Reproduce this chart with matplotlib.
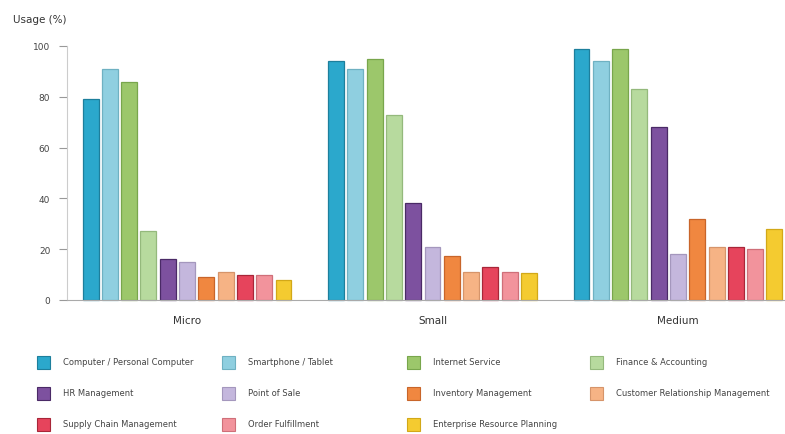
import matplotlib.pyplot as plt
from matplotlib.patches import Rectangle
import numpy as np

# company size groups
groups = ['Micro', 'Small', 'Medium']

# software / service categories, in drawing order
categories = [
    'Computer / Personal Computer', 'Smartphone / Tablet', 'Internet Service',
    'Finance & Accounting', 'HR Management', 'Point of Sale',
    'Inventory Management', 'Customer Relationship Management',
    'Supply Chain Management', 'Order Fulfillment', 'Enterprise Resource Planning',
]

# usage in percent per category, one list per group
micro = [79, 91, 86, 27, 16, 15, 9, 11, 10, 10, 8]
small = [94, 91, 95, 73, 38, 21, 17.5, 11, 13, 11, 10.5]
medium = [99, 94, 99, 83, 68, 18, 32, 21, 21, 20, 28]

yticks = [0, 20, 40, 60, 80, 100]

colors = ['#2ba8cc', '#8fcfe0', '#9cc76b', '#b7da9e', '#7d519f', '#c4b7dd',
          '#f08740', '#f6b385', '#e6445c', '#f2939c', '#f4cb30']
edges = ['#1d7f9c', '#6fb1c2', '#78a64c', '#94b97c', '#4a2a66', '#a497bd',
         '#c8652a', '#d6946a', '#a82638', '#cf6f79', '#d2a818']

values = np.array([micro, small, medium])

fig = plt.figure(figsize=(7.85, 4.35), dpi=100)
ax = fig.add_axes([67 / 785, 1 - 301 / 435, 1 - 67 / 785, 254 / 435])

pitch = 0.0786
width = 0.065
x = np.arange(len(groups))
for i, cat in enumerate(categories):
    off = (i - 5) * pitch
    ax.bar(x + off, values[:, i], width=width, color=colors[i],
           edgecolor=edges[i], linewidth=0.9, clip_on=False)

ax.set_xlim(-0.489, 2.436)
ax.set_ylim(0, 100)
ax.set_yticks(yticks)
ax.set_yticklabels([str(t) for t in yticks], fontsize=6.5, color='#444444')
ax.tick_params(axis='y', length=6, width=0.8, color='#999999', pad=6)
ax.set_xticks(x)
ax.set_xticklabels(groups, fontsize=7.5, color='#333333')
ax.tick_params(axis='x', length=0, pad=11)

for side in ['top', 'right']:
    ax.spines[side].set_visible(False)
ax.spines['left'].set_color('#cccccc')
ax.spines['left'].set_linewidth(0.8)
ax.spines['bottom'].set_color('#aaaaaa')
ax.spines['bottom'].set_linewidth(0.8)

fig.text(13 / 785, 1 - 20 / 435, 'Usage (%)', fontsize=7.5, color='#333333',
         va='center', ha='left')

# legend laid out row by row, four columns
col_x = [37, 222, 407, 590]
row_y = [363, 394, 425]
sw = 13
for i, cat in enumerate(categories):
    r, c = divmod(i, 4)
    px, py = col_x[c], row_y[r]
    fig.patches.append(Rectangle((px / 785, 1 - (py + sw / 2) / 435), sw / 785, sw / 435,
                                 transform=fig.transFigure, facecolor=colors[i],
                                 edgecolor=edges[i], linewidth=0.8))
    fig.text((px + 26) / 785, 1 - py / 435, cat, fontsize=6, color='#444444',
             va='center', ha='left')

fig.savefig('out.png', dpi=100, facecolor='white')
